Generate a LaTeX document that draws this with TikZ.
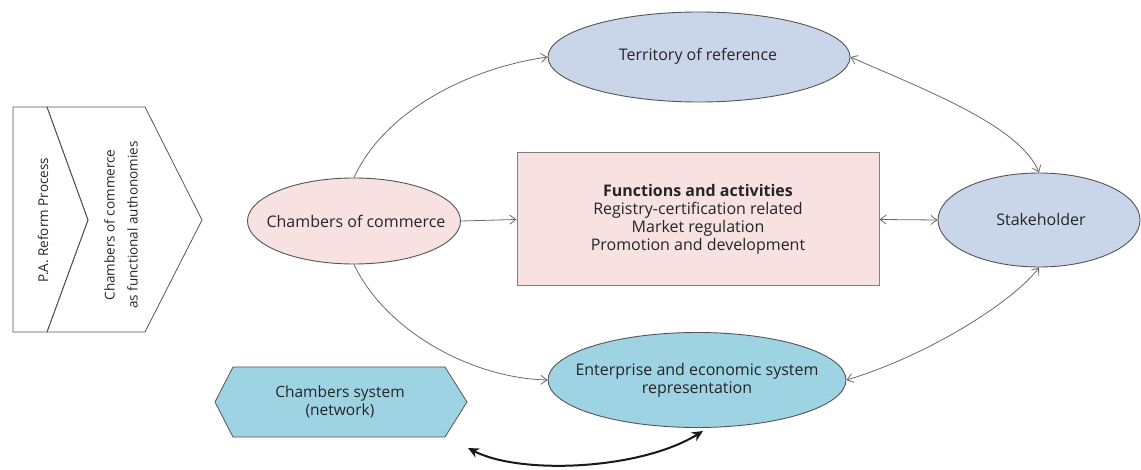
\documentclass[tikz,border=0pt]{standalone}
\usepackage{fontspec}
\setmainfont{Open Sans}
\usetikzlibrary{shapes.geometric,arrows.meta}
\definecolor{blueg}{HTML}{C9D6EA}
\definecolor{pinkc}{HTML}{F7E1E1}
\definecolor{cyanb}{HTML}{9DD3E3}
\definecolor{edge}{HTML}{555555}
\definecolor{linkc}{HTML}{6A6A6A}
\tikzset{
  txt/.style={font=\fontsize{16}{18}\selectfont, text=black!85},
  sidetxt/.style={font=\fontsize{13.5}{23}\selectfont, text=black!85, rotate=90, align=center},
  oval/.style={ellipse, draw=edge, line width=0.9pt, inner sep=0pt},
  link/.style={draw=linkc, line width=0.8pt, -{Straight Barb[length=6pt,width=9pt]}},
  bilink/.style={draw=linkc, line width=0.8pt, {Straight Barb[length=6pt,width=9pt]}-{Straight Barb[length=6pt,width=9pt]}},
  outline/.style={draw=edge, line width=0.8pt},
}
\begin{document}
\begin{tikzpicture}[x=1pt,y=-1pt]
\useasboundingbox[fill=white] (0,0) rectangle (1141,470);

% process chevrons on the left
\draw[outline] (13,107) -- (47,107) -- (88,220) -- (47,332) -- (13,332) -- cycle;
\draw[outline] (47,107) -- (145,107) -- (202,220) -- (145,332) -- (47,332) -- (88,220) -- cycle;
\node[sidetxt] (pa) at (43,220) {P.A. Reform Process};
\node[sidetxt] (fa) at (121,225) {Chambers of commerce\\as functional authonomies};

% main ovals (fixed size) and their texts
\node[oval, fill=blueg, minimum width=302pt, minimum height=90pt] (ter) at (699,57) {};
\node[txt] (ter-t) at (698,56) {Territory of reference};
\node[oval, fill=pinkc, minimum width=213pt, minimum height=86pt] (cc) at (354,221) {};
\node[txt] (cc-t) at (356,221) {Chambers of commerce};
\node[oval, fill=blueg, minimum width=202pt, minimum height=94pt] (st) at (1039,220) {};
\node[txt] (st-t) at (1041,220) {Stakeholder};
\node[oval, fill=cyanb, minimum width=298pt, minimum height=95pt] (ent) at (697,380) {};
\node[txt, align=center] (ent-t) at (697,380) {Enterprise and economic system\\representation};

% functions box
\node[draw=edge!75, line width=1pt, fill=pinkc, minimum width=362pt, minimum height=133pt,
      txt, align=center] (fn) at (698,219.5)
  {\textbf{Functions and activities}\\Registry-certification related\\Market regulation\\Promotion and development};

% network hexagon
\draw[outline, fill=cyanb] (215,402) -- (233,367) -- (445,367) -- (467,402) -- (445,437) -- (233,437) -- cycle;
\node[txt, font=\fontsize{15.5}{18}\selectfont, align=center] (net) at (340,402) {Chambers system\\(network)};

% thin connectors
\draw[link] (cc.north) .. controls (385,110) and (470,68) .. (ter.west);
\draw[link] (cc.south) .. controls (385,330) and (470,378) .. (ent.west);
\draw[link] (cc.east) -- (fn.west);
\draw[bilink] (fn.east) -- (st.west);
\draw[bilink] (ter.east) .. controls (920,88) and (1020,125) .. (st.north);
\draw[bilink] (ent.east) .. controls (930,355) and (1015,300) .. (st.south);

% thick link between the network and the enterprise system
\coordinate (nl) at (468,448);
\coordinate (nr) at (703,431);
\draw[line width=2pt, black!90, {Stealth[length=11pt,width=10pt]}-{Stealth[length=11pt,width=10pt]}]
  (nl) .. controls (520,475) and (640,470) .. (nr);
\end{tikzpicture}
\end{document}
